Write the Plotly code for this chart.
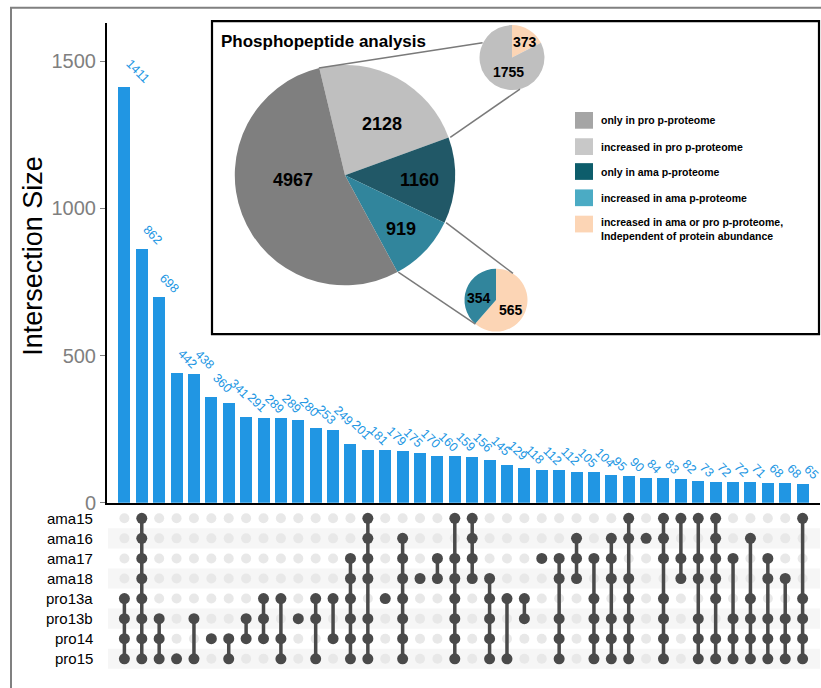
import math
import plotly.graph_objects as go

W, H = 821, 688

# ---- data -------------------------------------------------------------
sets = ["ama15", "ama16", "ama17", "ama18", "pro13a", "pro13b", "pro14", "pro15"]

sizes = [1411, 862, 698, 442, 438, 360, 341, 291, 289, 289,
         280, 253, 249, 201, 181, 179, 175, 170, 160, 159,
         156, 145, 129, 118, 112, 112, 105, 104, 95, 90,
         84, 83, 82, 73, 72, 72, 71, 68, 68, 65]

members = [
    ("pro13a", "pro13b", "pro14", "pro15"),
    ("ama15", "ama16", "ama17", "ama18", "pro13a", "pro13b", "pro14", "pro15"),
    ("pro13b", "pro14", "pro15"),
    ("pro15",),
    ("pro13b", "pro15"),
    ("pro14",),
    ("pro14", "pro15"),
    ("pro13b", "pro14"),
    ("pro13a", "pro13b", "pro14"),
    ("pro13a", "pro14", "pro15"),
    ("pro13b",),
    ("pro13a", "pro13b", "pro15"),
    ("pro13a", "pro14"),
    ("ama17", "ama18", "pro13a", "pro13b", "pro14", "pro15"),
    ("ama15", "ama16", "ama17", "ama18", "pro13b", "pro14", "pro15"),
    ("pro13a",),
    ("ama16", "ama17", "ama18", "pro13a", "pro13b", "pro14", "pro15"),
    ("ama18",),
    ("ama17", "ama18"),
    ("ama15", "ama17", "ama18", "pro13a", "pro13b", "pro14", "pro15"),
    ("ama15", "ama16", "ama17", "ama18"),
    ("ama18", "pro13a", "pro13b", "pro14", "pro15"),
    ("pro13a", "pro15"),
    ("pro13a", "pro13b"),
    ("ama17",),
    ("ama17", "ama18", "pro13b", "pro14", "pro15"),
    ("ama16", "ama17", "ama18"),
    ("ama17", "pro13a", "pro13b", "pro14", "pro15"),
    ("ama16", "ama17", "ama18", "pro13b", "pro14", "pro15"),
    ("ama15", "ama16", "ama18", "pro13a", "pro13b", "pro14", "pro15"),
    ("ama16",),
    ("ama15", "ama16", "ama17", "pro13a", "pro13b", "pro14", "pro15"),
    ("ama15", "ama17", "ama18"),
    ("ama15", "ama17", "ama18", "pro13b", "pro14", "pro15"),
    ("ama15", "ama16", "ama17", "ama18", "pro13a", "pro14", "pro15"),
    ("ama17", "pro13b", "pro14", "pro15"),
    ("ama16", "pro13a", "pro13b", "pro14", "pro15"),
    ("ama17", "ama18", "pro13b", "pro14", "pro15"),
    ("ama18", "pro13b", "pro14", "pro15"),
    ("ama15", "pro13a", "pro13b", "pro14", "pro15"),
]

pie_labels = ["increased in pro p-proteome", "only in ama p-proteome",
              "increased in ama p-proteome", "only in pro p-proteome"]
pie_values = [2128, 1160, 919, 4967]

pro_split_labels = ["independent of protein abundance", "increased in pro p-proteome"]
pro_split_values = [373, 1755]

ama_split_labels = ["independent of protein abundance", "increased in ama p-proteome"]
ama_split_values = [565, 354]

legend_items = ["only in pro p-proteome",
                "increased in pro p-proteome",
                "only in ama p-proteome",
                "increased in ama p-proteome",
                "increased in ama or pro p-proteome,<br>Independent of protein abundance"]

# ---- styling ----------------------------------------------------------
BLUE = "#2196e3"
DARK = "#4a4a4a"
LIGHT = "#e8e8e8"
BAND = "#f6f6f6"
GRAY_TXT = "#7f7f7f"
FONT = "Arial"

pie_colors = ["#bfbfbf", "#215867", "#31859c", "#7f7f7f"]
pro_split_colors = ["#fcd5b5", "#bfbfbf"]
ama_split_colors = ["#fcd5b5", "#31859c"]
legend_colors = ["#a5a5a5", "#c8c8c8", "#0d5d6b", "#4babc4", "#fcd5b5"]

# label placement inside each pie: (fraction of radius, angular nudge in degrees)
big_label_pos = [(0.57, 7), (0.67, 1), (0.70, 0.5), (0.47, 15.5)]
pro_label_pos = [(0.62, 8), (0.45, -16)]
ama_label_pos = [(0.57, 13), (0.55, -13)]

# matrix geometry (pixels): first row centre and row pitch
ROW0_Y, ROW_STEP = 526.7, 20.4


def px(x):
    return x / W


def py(y):
    return 1 - y / H


n = len(sizes)
xs = list(range(n))

fig = go.Figure()

# ---- intersection size bars -------------------------------------------
fig.add_trace(go.Bar(x=xs, y=sizes, marker=dict(color=BLUE, line=dict(width=0)),
                     width=0.69, xaxis="x", yaxis="y", hoverinfo="skip"))

# ---- membership matrix --------------------------------------------------
row_of = {s: i for i, s in enumerate(sets)}
bg_x, bg_y, on_x, on_y, ln_x, ln_y = [], [], [], [], [], []
for c, mem in enumerate(members):
    rows = sorted(row_of[s] for s in mem)
    for r in range(len(sets)):
        if r in rows:
            on_x.append(c)
            on_y.append(r)
        else:
            bg_x.append(c)
            bg_y.append(r)
    if len(rows) > 1:
        ln_x += [c, c, None]
        ln_y += [rows[0], rows[-1], None]

fig.add_trace(go.Scatter(x=bg_x, y=bg_y, mode="markers", xaxis="x2", yaxis="y2",
                         marker=dict(size=10, color=LIGHT), hoverinfo="skip"))
fig.add_trace(go.Scatter(x=ln_x, y=ln_y, mode="lines", xaxis="x2", yaxis="y2",
                         line=dict(color=DARK, width=3.5), hoverinfo="skip"))
fig.add_trace(go.Scatter(x=on_x, y=on_y, mode="markers", xaxis="x2", yaxis="y2",
                         marker=dict(size=11, color=DARK), hoverinfo="skip"))

# ---- pies ---------------------------------------------------------------
BIG_C, BIG_R = (345, 178), 112
TOP_C, TOP_R = (512, 58.5), 33
BOT_C, BOT_R = (496, 305), 32
BIG_ROT = -13.5


def dom(c, r):
    return dict(x=[px(c[0] - r), px(c[0] + r)], y=[py(c[1] + r), py(c[1] - r)])


def add_pie(values, labels, colors, center, radius, rotation):
    fig.add_trace(go.Pie(values=values, labels=labels, sort=False,
                         direction="clockwise", rotation=rotation,
                         domain=dom(center, radius),
                         marker=dict(colors=colors, line=dict(width=0)),
                         textinfo="none", hoverinfo="skip", showlegend=False))


add_pie(pie_values, pie_labels, pie_colors, BIG_C, BIG_R, BIG_ROT)
add_pie(pro_split_values, pro_split_labels, pro_split_colors, TOP_C, TOP_R, 0)
add_pie(ama_split_values, ama_split_labels, ama_split_colors, BOT_C, BOT_R, 0)


def on_circle(c, r, deg):
    a = math.radians(deg)
    return c[0] + r * math.sin(a), c[1] - r * math.cos(a)


def slice_edges(values, rotation):
    tot = sum(values)
    edges = [rotation]
    for v in values:
        edges.append(edges[-1] + 360 * v / tot)
    return edges


ann = []


def pie_value_labels(values, center, radius, rotation, placement, size):
    e = slice_edges(values, rotation)
    for i, v in enumerate(values):
        frac, nudge = placement[i]
        mid = (e[i] + e[i + 1]) / 2 + nudge
        x, y = on_circle(center, radius * frac, mid)
        ann.append(dict(x=px(x), y=py(y), xref="paper", yref="paper",
                        text="<b>%d</b>" % v, showarrow=False,
                        xanchor="center", yanchor="middle",
                        font=dict(family=FONT, size=size, color="black")))


pie_value_labels(pie_values, BIG_C, BIG_R, BIG_ROT, big_label_pos, 18)
pie_value_labels(pro_split_values, TOP_C, TOP_R, 0, pro_label_pos, 14)
pie_value_labels(ama_split_values, BOT_C, BOT_R, 0, ama_label_pos, 14)

# ---- shapes ------------------------------------------------------------
shapes = []
# outer frame
shapes.append(dict(type="rect", xref="paper", yref="paper",
                   x0=px(11), x1=px(840), y0=py(710), y1=py(8),
                   line=dict(color="#808080", width=2), layer="below"))
# alternating row bands
for r in range(1, len(sets), 2):
    shapes.append(dict(type="rect", xref="paper", yref="y2",
                       x0=px(108), x1=px(820), y0=r - 0.5, y1=r + 0.5,
                       fillcolor=BAND, line=dict(width=0), layer="below"))
# inset frame
shapes.append(dict(type="rect", xref="paper", yref="paper",
                   x0=px(212), x1=px(819), y0=py(339.5), y1=py(21.5),
                   fillcolor="white", line=dict(color="black", width=2.2), layer="below"))

# zoom connectors from the big pie to the two split pies
e = slice_edges(pie_values, BIG_ROT)
connectors = [
    (on_circle(BIG_C, BIG_R, e[0]), on_circle(TOP_C, TOP_R, -63)),
    (on_circle(BIG_C, BIG_R, e[1]), on_circle(TOP_C, TOP_R, 166)),
    (on_circle(BIG_C, BIG_R, e[2]), on_circle(BOT_C, BOT_R, 32)),
    (on_circle(BIG_C, BIG_R, e[3]), on_circle(BOT_C, BOT_R, 220)),
]
for (x0, y0), (x1, y1) in connectors:
    shapes.append(dict(type="line", xref="paper", yref="paper",
                       x0=px(x0), y0=py(y0), x1=px(x1), y1=py(y1),
                       line=dict(color="#7a7a7a", width=1.5), layer="above"))

# legend swatches
leg_y = [122.3, 149, 174.3, 201, 227.7]
for yc, col in zip(leg_y, legend_colors):
    shapes.append(dict(type="rect", xref="paper", yref="paper",
                       x0=px(575), x1=px(593), y0=py(yc + 8.5), y1=py(yc - 8.5),
                       fillcolor=col, line=dict(width=0), layer="above"))

# ---- annotations -------------------------------------------------------
for i, v in enumerate(sizes):
    ann.append(dict(x=i, y=v, xref="x", yref="y", text=str(v), showarrow=False,
                    textangle=45, xanchor="left", yanchor="bottom", xshift=-3,
                    borderpad=0, font=dict(family=FONT, size=12.5, color=BLUE)))
for r, s in enumerate(sets):
    ann.append(dict(x=px(95), y=r, xref="paper", yref="y2", text=s, showarrow=False,
                    xanchor="right", yanchor="middle",
                    font=dict(family=FONT, size=15, color="black")))
ann.append(dict(x=px(33), y=py(260), xref="paper", yref="paper", text="Intersection Size",
                showarrow=False, textangle=-90, xanchor="center", yanchor="middle",
                font=dict(family=FONT, size=27, color="black")))
ann.append(dict(x=px(219), y=py(42), xref="paper", yref="paper",
                text="<b>Phosphopeptide analysis</b>", showarrow=False,
                xanchor="left", yanchor="middle",
                font=dict(family=FONT, size=17, color="black")))
leg_text_y = [122.3, 149, 174.3, 201, 233]
for yc, t in zip(leg_text_y, legend_items):
    ann.append(dict(x=px(599), y=py(yc), xref="paper", yref="paper",
                    text="<b>" + t + "</b>", showarrow=False, align="left",
                    xanchor="left", yanchor="middle",
                    font=dict(family=FONT, size=10.5, color="black")))

# matrix axis spans from just above the first row to the bottom of the figure
mat_top = ROW0_Y - ROW_STEP / 2
mat_bottom_val = -0.5 + (H - mat_top) / ROW_STEP

fig.update_layout(
    width=W, height=H, margin=dict(l=0, r=0, t=0, b=0),
    paper_bgcolor="white", plot_bgcolor="rgba(0,0,0,0)",
    showlegend=False, bargap=0,
    xaxis=dict(domain=[px(107), px(820)], range=[-1, n], anchor="y",
               showticklabels=False, ticks="", showgrid=False, zeroline=False,
               showline=True, linecolor="black", linewidth=2),
    yaxis=dict(domain=[py(511), py(23.3)], range=[0, 1630], anchor="x",
               tickvals=[0, 500, 1000, 1500], ticks="outside", ticklen=5,
               tickcolor=GRAY_TXT, tickwidth=1,
               tickfont=dict(family=FONT, size=20, color=GRAY_TXT),
               showgrid=False, zeroline=False,
               showline=True, linecolor="black", linewidth=2),
    xaxis2=dict(domain=[px(107), px(820)], range=[-1, n], anchor="y2", visible=False),
    yaxis2=dict(domain=[0, py(mat_top)], range=[mat_bottom_val, -0.5],
                anchor="x2", visible=False),
    shapes=shapes, annotations=ann,
)

fig.write_html("out.html")
